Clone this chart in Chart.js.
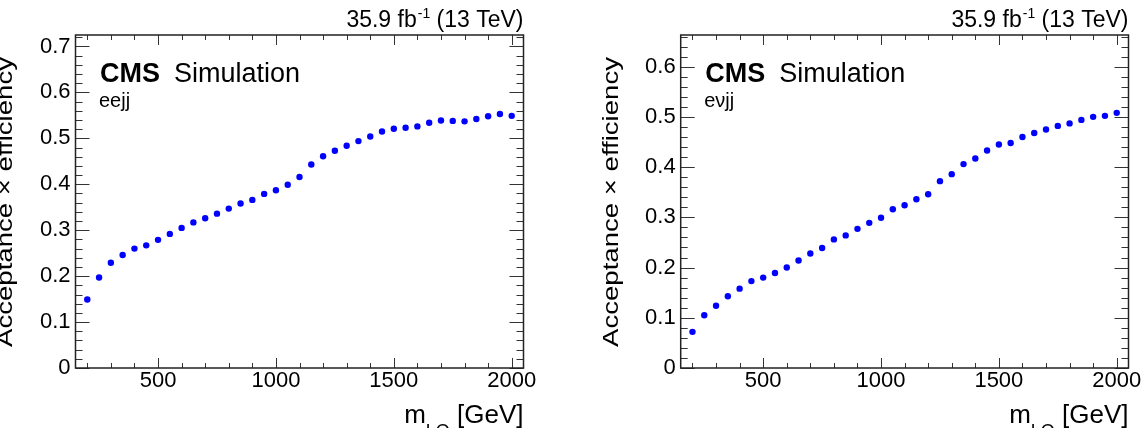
<!DOCTYPE html>
<html>
<head>
<meta charset="utf-8">
<script src="https://cdn.jsdelivr.net/npm/chart.js@4.4.1/dist/chart.umd.min.js"></script>
<style>
  html, body { margin: 0; padding: 0; background: #fff; }
  #wrap { position: relative; width: 1141px; height: 428px; overflow: hidden; }
  .panel { position: absolute; top: 0; height: 428px; }
</style>
</head>
<body>
<div id="wrap">
  <div class="panel" style="left:0;width:570px"><canvas id="eejj" width="570" height="428"></canvas></div>
  <div class="panel" style="left:590px;width:551px"><canvas id="evjj" width="551" height="428"></canvas></div>
</div>
<script>
// masy LQ (GeV)
const massPoints = [200, 250, 300, 350, 400, 450, 500, 550, 600, 650, 700, 750, 800, 850, 900, 950,
  1000, 1050, 1100, 1150, 1200, 1250, 1300, 1350, 1400, 1450, 1500, 1550, 1600, 1650, 1700, 1750,
  1800, 1850, 1900, 1950, 2000];

// akceptancja x wydajnosc, kanal eejj
const eejjEff = [0.149, 0.197, 0.229, 0.246, 0.260, 0.267, 0.279, 0.292, 0.305, 0.317, 0.326, 0.336,
  0.347, 0.358, 0.366, 0.379, 0.387, 0.399, 0.416, 0.443, 0.461, 0.473, 0.484, 0.494, 0.504, 0.515,
  0.521, 0.523, 0.526, 0.534, 0.539, 0.538, 0.537, 0.542, 0.548, 0.553, 0.549];

// kanal evjj
const evjjEff = [0.072, 0.105, 0.124, 0.143, 0.158, 0.173, 0.180, 0.189, 0.200, 0.214, 0.228, 0.239,
  0.256, 0.264, 0.277, 0.289, 0.299, 0.316, 0.324, 0.336, 0.346, 0.372, 0.386, 0.406, 0.417, 0.433,
  0.445, 0.448, 0.460, 0.468, 0.475, 0.482, 0.487, 0.494, 0.500, 0.502, 0.508];

// etykiety osi
const xTicks = [500, 1000, 1500, 2000];
const yTicksEejj = [0, 0.1, 0.2, 0.3, 0.4, 0.5, 0.6, 0.7];
const yTicksEvjj = [0, 0.1, 0.2, 0.3, 0.4, 0.5, 0.6];

const FONT = '"Liberation Sans", Arial, Helvetica, sans-serif';

// ramka w stylu ROOT + napisy
const ramka = {
  id: 'ramka',
  afterDraw(chart, args, opts) {
    const ctx = chart.ctx;
    const a = chart.chartArea;
    const xs = chart.scales.x, ys = chart.scales.y;
    ctx.save();

    // kreski podzialki do srodka, na wszystkich bokach
    ctx.strokeStyle = '#333';
    ctx.lineWidth = 1;
    ctx.beginPath();
    for (let m = 200; m <= 2000; m += 100) {
      const px = Math.round(xs.getPixelForValue(m)) + 0.5;
      const len = m % 500 === 0 ? 10 : 5;
      ctx.moveTo(px, a.bottom); ctx.lineTo(px, a.bottom - len);
      ctx.moveTo(px, a.top); ctx.lineTo(px, a.top + len);
    }
    for (let k = 0; k * 0.02 <= ys.max + 1e-9; k++) {
      const py = Math.round(ys.getPixelForValue(k * 0.02)) + 0.5;
      const len = k % 5 === 0 ? 14 : 7;
      ctx.moveTo(a.left, py); ctx.lineTo(a.left + len, py);
      ctx.moveTo(a.right, py); ctx.lineTo(a.right - len, py);
    }
    ctx.stroke();

    ctx.lineWidth = 1.5;
    ctx.strokeStyle = '#222';
    ctx.strokeRect(a.left, a.top, a.right - a.left, a.bottom - a.top);

    ctx.fillStyle = '#000';
    ctx.textBaseline = 'alphabetic';
    ctx.textAlign = 'left';

    // 35.9 fb-1 (13 TeV)
    const big = '23px ' + FONT, small = '14px ' + FONT;
    ctx.font = big;
    const w1 = ctx.measureText('35.9 fb').width;
    const w3 = ctx.measureText(' (13 TeV)').width;
    ctx.font = small;
    const w2 = ctx.measureText('-1').width + 1;
    const lx = a.right - (w1 + w2 + w3);
    ctx.font = big; ctx.fillText('35.9 fb', lx, 27);
    ctx.font = small; ctx.fillText('-1', lx + w1 + 1, 18);
    ctx.font = big; ctx.fillText(' (13 TeV)', lx + w1 + w2, 27);

    // CMS Simulation
    const cx = a.left + 24.5;
    ctx.font = 'bold 27px ' + FONT;
    ctx.fillText('CMS', cx, 82);
    const wc = ctx.measureText('CMS').width;
    ctx.font = '27px ' + FONT;
    ctx.fillText('Simulation', cx + wc + 14, 82);
    ctx.font = '20px ' + FONT;
    ctx.fillText(opts.channel, cx - 1, 107);

    // tytul osi x: m_LQ [GeV]
    const tb = '26px ' + FONT, ts = '18px ' + FONT;
    ctx.font = tb;
    const wm = ctx.measureText('m').width;
    const wg = ctx.measureText(' [GeV]').width;
    ctx.font = ts;
    const wl = ctx.measureText('LQ').width;
    const tx = a.right - (wm + wl + wg);
    ctx.font = tb; ctx.fillText('m', tx, 423);
    ctx.font = ts; ctx.fillText('LQ', tx + wm, 437);
    ctx.font = tb; ctx.fillText(' [GeV]', tx + wm + wl, 423);

    // tytul osi y
    const yt = 'Acceptance \u00d7 efficiency';
    ctx.font = '22px ' + FONT;
    const wy = ctx.measureText(yt).width;
    ctx.translate(opts.titleX, 347);
    ctx.rotate(-Math.PI / 2);
    ctx.scale(290 / wy, 1);
    ctx.fillText(yt, 0, 0);

    ctx.restore();
  }
};

function makePanel(id, values, yMax, yTicks, channel, axisWidth, padRight, titleX) {
  const punkty = massPoints.map((m, i) => ({ x: m, y: values[i] }));
  return new Chart(document.getElementById(id), {
    type: 'scatter',
    data: {
      datasets: [{
        data: punkty,
        backgroundColor: '#0000ff',
        borderWidth: 0,
        pointRadius: 3.2,
        pointHoverRadius: 3.2
      }]
    },
    options: {
      responsive: false,
      animation: false,
      events: [],
      layout: { padding: { top: 35, right: padRight, left: 0, bottom: 0 } },
      plugins: {
        legend: { display: false },
        tooltip: { enabled: false },
        ramka: { channel: channel, titleX: titleX }
      },
      scales: {
        x: {
          type: 'linear',
          min: 150,
          max: 2050,
          afterBuildTicks: s => { s.ticks = xTicks.map(v => ({ value: v })); },
          afterFit: s => { s.height = 60; s.paddingLeft = 0; s.paddingRight = 0; },
          grid: { display: false, drawTicks: false },
          border: { display: false },
          ticks: {
            font: { family: FONT, size: 22 },
            color: '#000',
            padding: 0,
            maxRotation: 0,
            autoSkip: false,
            callback: v => String(v)
          }
        },
        y: {
          min: 0,
          max: yMax,
          afterBuildTicks: s => { s.ticks = yTicks.map(v => ({ value: v })); },
          afterFit: s => { s.width = axisWidth; s.paddingTop = 0; s.paddingBottom = 0; },
          grid: { display: false, drawTicks: false },
          border: { display: false },
          ticks: {
            font: { family: FONT, size: 22 },
            color: '#000',
            padding: 5,
            autoSkip: false,
            callback: v => (v === 0 ? '0' : v.toFixed(1))
          }
        }
      }
    },
    plugins: [ramka]
  });
}

makePanel('eejj', eejjEff, 0.725, yTicksEejj, 'eejj', 75.5, 46.5, 12.4);
makePanel('evjj', evjjEff, 0.663, yTicksEvjj, 'e\u03bdjj', 90.7, 12.5, 28.4);
</script>
</body>
</html>
